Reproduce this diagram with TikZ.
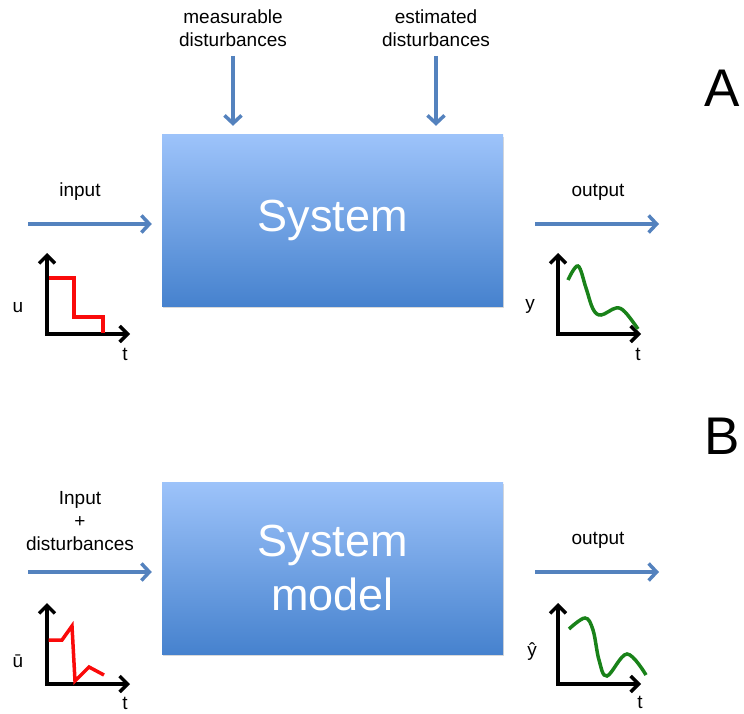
\documentclass[tikz,border=0pt]{standalone}
\usepackage{fontspec}
\setmainfont{Liberation Sans}
\usetikzlibrary{arrows.meta,shadows}
\definecolor{flowblue}{RGB}{84,130,190}
\definecolor{boxtop}{RGB}{157,195,250}
\definecolor{boxbot}{RGB}{70,130,206}
\definecolor{plotred}{RGB}{250,10,10}
\definecolor{plotgreen}{RGB}{25,130,25}

\begin{document}
\begin{tikzpicture}[x=1pt,y=-1pt,
    sysbox/.style={top color=boxtop, bottom color=boxbot, minimum width=341pt,
        text=white, align=center, font=\fontsize{45}{54}\selectfont,
        drop shadow={opacity=0.3, shadow xshift=1pt, shadow yshift=-2pt}},
    flow/.style={flowblue, line width=3.5pt, -{Straight Barb[length=8pt,width=17pt]}},
    axis/.style={black, line width=3.5pt, {Straight Barb[length=8pt,width=16pt]}-{Straight Barb[length=8pt,width=16pt]}},
    lbl/.style={font=\fontsize{19}{23}\selectfont, align=center},
    big/.style={font=\fontsize{53}{60}\selectfont}]
    \useasboundingbox (0,0) rectangle (744,714);

    % part A
    \node[sysbox, minimum height=171pt] at (332.5,220.5)(sysA){System};
    \node[big] at (722,88)(labA){A};
    \node[lbl] at (233,28)(measA){measurable\\disturbances};
    \node[lbl] at (436,28)(estA){estimated\\disturbances};
    \node[lbl] at (80,192)(inlabA){input};
    \node[lbl] at (598,192)(outlabA){output};

    \coordinate (meastop) at (233,56);
    \coordinate (esttop) at (436,56);
    \coordinate (inA) at (28,224);
    \coordinate (outA) at (659,224);
    \draw[flow] (meastop) -- ([yshift=9pt]sysA.north -| meastop);
    \draw[flow] (esttop) -- ([yshift=9pt]sysA.north -| esttop);
    \draw[flow] (inA) -- ([xshift=-10pt]sysA.west |- inA);
    \draw[flow] ([xshift=32pt]sysA.east |- outA) -- (outA);

    % input signal u
    \coordinate (uAy) at (47,253);
    \coordinate (uAo) at (47,334);
    \coordinate (uAx) at (130,334);
    \draw[axis] (uAy) -- (uAo) -- (uAx);
    \draw[plotred, line width=3.5pt] (48.5,278) -- (74,278) -- (74,317) -- (103,317) -- (103,333);
    \node[lbl] at (18,308)(uA){u};
    \node[lbl] at (125,354)(tuA){t};

    % output signal y
    \coordinate (yAy) at (558,253);
    \coordinate (yAo) at (558,334);
    \coordinate (yAx) at (641,334);
    \draw[axis] (yAy) -- (yAo) -- (yAx);
    \draw[plotgreen, line width=3.5pt] plot[smooth, tension=0.6] coordinates
        {(568,280) (578,266) (586,288) (593,309) (601,315) (616,308) (625,312) (638,329)};
    \node[lbl] at (530,306)(yA){y};
    \node[lbl] at (638,354)(tyA){t};

    % part B
    \node[sysbox, minimum height=172pt] at (332.5,568)(sysB){System\\model};
    \node[big] at (722,436)(labB){B};
    \node[lbl] at (80,521)(inlabB){Input\\+\\disturbances};
    \node[lbl] at (598,540)(outlabB){output};

    \coordinate (inB) at (28,572);
    \coordinate (outB) at (659,572);
    \draw[flow] (inB) -- ([xshift=-10pt]sysB.west |- inB);
    \draw[flow] ([xshift=32pt]sysB.east |- outB) -- (outB);

    % disturbed input
    \coordinate (uBy) at (47,603);
    \coordinate (uBo) at (47,684);
    \coordinate (uBx) at (130,684);
    \draw[axis] (uBy) -- (uBo) -- (uBx);
    \draw[plotred, line width=3.5pt] (48.5,640) -- (62,640) -- (72,626) -- (75,681) -- (89,667) -- (104,675);
    \node[lbl] at (18,661)(uB){ū};
    \node[lbl] at (125,703)(tuB){t};

    % model output
    \coordinate (yBy) at (558,603);
    \coordinate (yBo) at (558,684);
    \coordinate (yBx) at (641,684);
    \draw[axis] (yBy) -- (yBo) -- (yBx);
    \draw[plotgreen, line width=3.5pt] plot[smooth, tension=0.6] coordinates
        {(569,629) (585,618) (593,630) (599,660) (607,676) (627,654) (646,675)};
    \node[lbl] at (532,652)(yB){ŷ};
    \node[lbl] at (640,702)(tyB){t};
\end{tikzpicture}
\end{document}
